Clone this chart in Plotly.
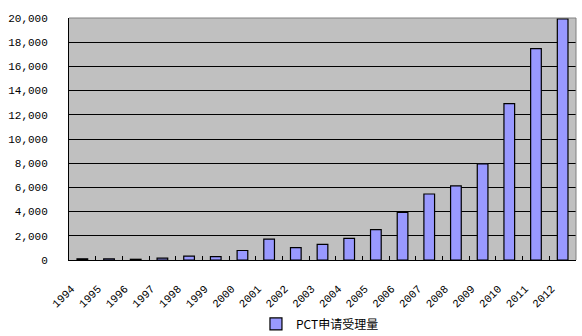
import plotly.graph_objects as go

years = [str(y) for y in range(1994, 2013)]
pct_apps = [98, 103, 60, 163, 317, 276, 784, 1731, 1018, 1295, 1782, 2503, 3942,
            5455, 6120, 7946, 12917, 17471, 19924]
series_name = "PCT申请受理量"
y_ticks = [0, 2000, 4000, 6000, 8000, 10000, 12000, 14000, 16000, 18000, 20000]
y_labels = ["0", "2,000", "4,000", "6,000", "8,000", "10,000", "12,000",
            "14,000", "16,000", "18,000", "20,000"]

fig = go.Figure()
fig.add_trace(go.Bar(
    x=years, y=pct_apps, name=series_name,
    marker=dict(color="#9999FF", line=dict(color="black", width=1.2)),
))

fig.update_layout(
    width=582, height=336,
    margin=dict(l=69, r=6, t=18, b=76, autoexpand=False),
    paper_bgcolor="white",
    plot_bgcolor="#C0C0C0",
    bargap=0.6,
    showlegend=True,
    font=dict(family="Liberation Mono", size=11, color="black"),
    legend=dict(orientation="h", x=0.495, xanchor="center",
                yref="container", y=0.036, yanchor="middle",
                font=dict(family="Noto Sans CJK SC", size=12, color="black"),
                bgcolor="rgba(0,0,0,0)"),
    xaxis=dict(
        type="category",
        automargin=False,
        showline=True, linecolor="black", linewidth=1,
        ticks="inside", tickson="boundaries", ticklen=4, tickcolor="black",
        tickangle=-45,
        ticklabelstandoff=17,
        ticklabelshift=-11,
        showgrid=False,
        tickfont=dict(family="Liberation Mono", size=11),
    ),
    yaxis=dict(
        automargin=False,
        range=[0, 20000],
        tickvals=y_ticks, ticktext=y_labels,
        showline=True, linecolor="black", linewidth=1,
        showgrid=True, gridcolor="black", gridwidth=1,
        ticks="", ticklabelstandoff=18,
        zeroline=False,
        tickfont=dict(family="Liberation Mono", size=11),
    ),
)

fig.add_shape(type="line", xref="paper", yref="paper", x0=0, x1=1, y0=1, y1=1,
              line=dict(color="#808080", width=1), layer="above")
fig.add_shape(type="line", xref="paper", yref="paper", x0=1, x1=1, y0=0, y1=1,
              line=dict(color="#808080", width=1), layer="above")

fig.write_html("out.html")
